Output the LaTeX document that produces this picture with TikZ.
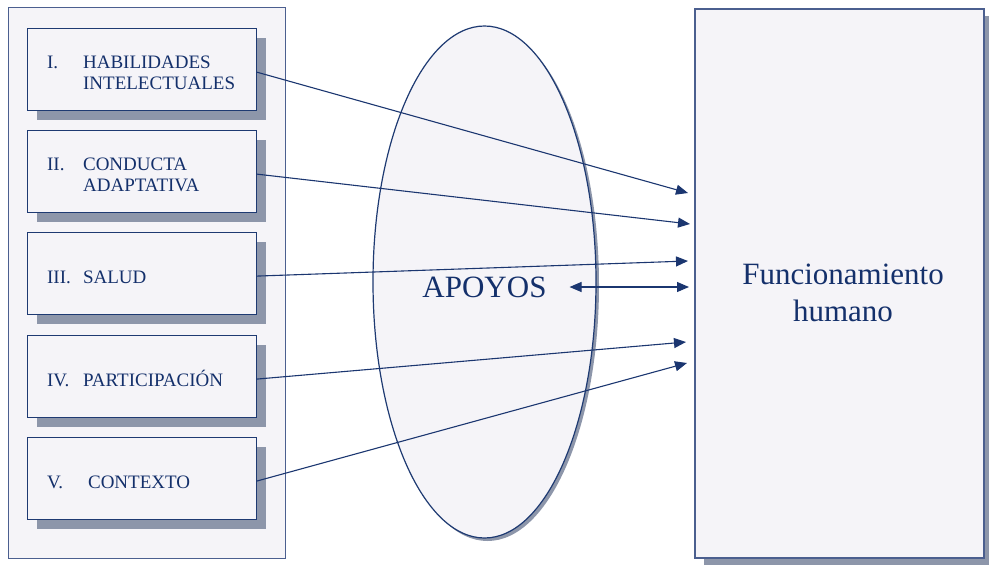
\documentclass[tikz,border=0pt]{standalone}
\usepackage{fontspec}
\setmainfont{Liberation Serif}
\usetikzlibrary{positioning,shapes.geometric,shadows,arrows.meta}
\definecolor{fondo}{HTML}{F5F4F8}
\definecolor{borde}{HTML}{1E3A72}
\definecolor{marco}{HTML}{4B5F8F}
\definecolor{sombra}{HTML}{8D96AA}
\definecolor{texto}{HTML}{14306B}
\definecolor{linea}{HTML}{1B3670}
\newcommand{\cajatxt}[2]{\raisebox{-10pt}[0pt][0pt]{\makebox[189pt][l]{%
      \begin{tabular}{@{}p{36pt}@{}l@{}}#1 & #2\end{tabular}}}}
\begin{document}
\begin{tikzpicture}[x=1pt,y=-1pt,
    cajasty/.style={draw=borde,line width=1.2pt,fill=fondo,minimum
      width=229pt,minimum height=82pt,inner xsep=0pt,text=texto,
      font=\fontsize{19}{21.5}\selectfont,
      general shadow={fill=sombra,shadow xshift=10pt,shadow yshift=-10pt}},
    grandesty/.style={text=texto,font=\fontsize{31}{37}\selectfont},
    flechasty/.style={draw=linea,line width=1.1pt,>={Triangle[length=12pt,width=10pt]}}]
    \useasboundingbox (0,0) rectangle (989,565);
    % panel de dimensiones
    \node[draw=marco,line width=1pt,fill=fondo,minimum width=277pt,minimum
    height=551pt] (panel) at (146.5,282.5) {};
    \node[cajasty,anchor=north west] (hab) at ([xshift=19pt,yshift=-21pt]panel.north west)
    {\cajatxt{I.}{HABILIDADES\\ & INTELECTUALES}};
    \node[cajasty,below=18.8pt of hab] (con) {\cajatxt{II.}{CONDUCTA\\ & ADAPTATIVA}};
    \node[cajasty,below=18.8pt of con] (sal) {\cajatxt{III.}{SALUD}};
    \node[cajasty,below=19.8pt of sal] (par) {\cajatxt{IV.}{PARTICIPACIÓN}};
    \node[cajasty,below=18.8pt of par] (ctx) {\cajatxt{V.}{\hspace{5pt}CONTEXTO}};

    % apoyos
    \node[ellipse,draw=borde,line width=1.2pt,fill=fondo,inner sep=0pt,
    minimum width=223pt,minimum height=512pt,
    general shadow={fill=sombra,shadow xshift=3pt,shadow yshift=-3pt}]
    (elipse) at (484.5,282) {};
    \node[grandesty] (apoyos) at ([yshift=-5pt]elipse.center) {APOYOS};

    % funcionamiento
    \node[draw=marco,line width=1.2pt,fill=fondo,minimum width=289pt,minimum
    height=549pt,general shadow={fill=sombra,shadow xshift=9pt,shadow yshift=-7pt}]
    (func) at (839.5,283.5) {};
    \node[grandesty,align=center] (funtxt) at ([xshift=3.5pt,yshift=-9.5pt]func.center)
    {Funcionamiento\\humano};

    % flechas
    \coordinate (t1) at (688,193);
    \coordinate (t2) at (690,224);
    \coordinate (t3) at (688,261);
    \coordinate (t4) at (689,287);
    \coordinate (t5) at (686,342);
    \coordinate (t6) at (687,363);
    \foreach \a/\b in {hab/t1,con/t2,sal/t3,par/t5,ctx/t6}
    \draw[flechasty,->] ([yshift=-3pt]\a.east) -- (\b);
    \draw[flechasty,<->] ([xshift=19.5pt]apoyos.east) -- (t4);
\end{tikzpicture}
\end{document}
